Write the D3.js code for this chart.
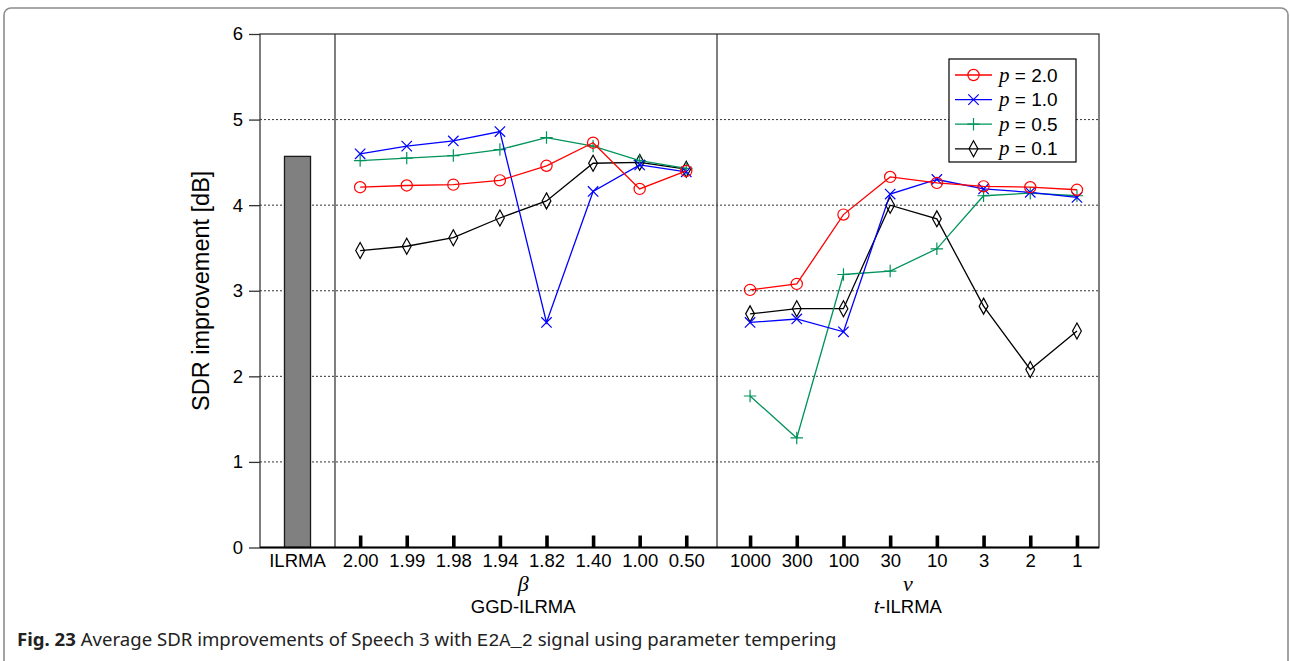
<!DOCTYPE html>
<html>
<head>
<meta charset="utf-8">
<script src="https://cdn.jsdelivr.net/npm/d3@7"></script>
<style>
  body { margin: 0; background: #fff; }
  svg text { font-family: "Liberation Sans", Arial, sans-serif; }
</style>
</head>
<body>
<svg id="chart"></svg>
<script>
// values
let ilrmaCategory = ['ILRMA'];
let ilrmaValue = [4.57];
let betaLabels = ['2.00', '1.99', '1.98', '1.94', '1.82', '1.40', '1.00', '0.50'];
let nuLabels = ['1000', '300', '100', '30', '10', '3', '2', '1'];
let yTicks = [0, 1, 2, 3, 4, 5, 6];
let seriesNames = ['2.0', '1.0', '0.5', '0.1'];

let ggdP20 = [4.21, 4.23, 4.24, 4.29, 4.46, 4.73, 4.19, 4.40];
let ggdP10 = [4.60, 4.69, 4.75, 4.86, 2.63, 4.16, 4.47, 4.39];
let ggdP05 = [4.52, 4.55, 4.58, 4.65, 4.79, 4.69, 4.52, 4.43];
let ggdP01 = [3.47, 3.52, 3.62, 3.85, 4.05, 4.49, 4.50, 4.42];

let tP20 = [3.01, 3.08, 3.89, 4.33, 4.26, 4.22, 4.21, 4.18];
let tP10 = [2.63, 2.67, 2.52, 4.13, 4.30, 4.19, 4.15, 4.09];
let tP05 = [1.77, 1.28, 3.19, 3.23, 3.49, 4.11, 4.14, 4.11];
let tP01 = [2.73, 2.79, 2.79, 4.00, 3.84, 2.82, 2.08, 2.53];

let width = 1290;
let height = 661;

let plotLeft = 260, plotRight = 1099, plotTop = 34, plotBottom = 547.5;
let split1 = 335, split2 = 717;

let colors = ['#ff0000', '#0000ff', '#00935a', '#000000'];

// custom marker shapes
let markerTypes = [
  { draw: (c) => { c.moveTo(5.6, 0); c.arc(0, 0, 5.6, 0, 2 * Math.PI); } },
  { draw: (c) => { let r = 5.2; c.moveTo(-r, -r); c.lineTo(r, r); c.moveTo(-r, r); c.lineTo(r, -r); } },
  { draw: (c) => { let r = 6.2; c.moveTo(-r, 0); c.lineTo(r, 0); c.moveTo(0, -r); c.lineTo(0, r); } },
  { draw: (c) => { c.moveTo(0, -8); c.lineTo(4.4, 0); c.lineTo(0, 8); c.lineTo(-4.4, 0); c.closePath(); } }
];

let svg = d3.select('#chart')
  .attr('width', width)
  .attr('height', height);

// figure frame
svg.append('rect')
  .attr('x', 4).attr('y', 8)
  .attr('width', 1284).attr('height', 720)
  .attr('rx', 7)
  .attr('fill', 'none')
  .attr('stroke', '#8c8c8c')
  .attr('stroke-width', 1.6);

let yScale = d3.scaleLinear().domain([0, 6]).range([plotBottom, plotTop]);

let xIlrma = d3.scaleBand().domain(ilrmaCategory).range([plotLeft, split1])
  .paddingInner(0).paddingOuter(0.94).align(0.5);
let xBeta = d3.scalePoint().domain(betaLabels).range([split1, split2])
  .padding(0.6).align(0.45);
let xNu = d3.scalePoint().domain(nuLabels).range([split2, plotRight])
  .padding(0.59).align(0.6);

// dotted grid
svg.append('g')
  .selectAll('line')
  .data(yTicks.filter(d => d > 0 && d < 6))
  .enter()
  .append('line')
  .attr('x1', plotLeft).attr('x2', plotRight)
  .attr('y1', d => yScale(d)).attr('y2', d => yScale(d))
  .attr('stroke', '#333')
  .attr('stroke-width', 1)
  .attr('stroke-dasharray', '2,2');

// ILRMA bar
svg.append('g')
  .selectAll('rect')
  .data(ilrmaValue)
  .enter()
  .append('rect')
  .attr('x', (d, i) => xIlrma(ilrmaCategory[i]))
  .attr('width', xIlrma.bandwidth())
  .attr('y', d => yScale(d))
  .attr('height', d => yScale(0) - yScale(d))
  .attr('fill', '#808080')
  .attr('stroke', '#1a1a1a')
  .attr('stroke-width', 1.3);

// box and panel dividers
svg.append('rect')
  .attr('x', plotLeft).attr('y', plotTop)
  .attr('width', plotRight - plotLeft).attr('height', plotBottom - plotTop)
  .attr('fill', 'none')
  .attr('stroke', '#3a3a3a')
  .attr('stroke-width', 1.3);

[split1, split2].forEach(x => {
  svg.append('line')
    .attr('x1', x).attr('x2', x)
    .attr('y1', plotTop).attr('y2', plotBottom)
    .attr('stroke', '#3a3a3a')
    .attr('stroke-width', 1.3);
});

svg.append('line')
  .attr('x1', plotLeft).attr('x2', plotRight)
  .attr('y1', plotBottom).attr('y2', plotBottom)
  .attr('stroke', '#000')
  .attr('stroke-width', 1.8);

// y axis
let yAxis = d3.axisLeft(yScale)
  .tickValues(yTicks)
  .tickFormat(d3.format('d'))
  .tickSize(11)
  .tickPadding(6);
let gy = svg.append('g')
  .attr('transform', `translate(${plotLeft},0)`)
  .call(yAxis);
gy.select('.domain').remove();
gy.selectAll('.tick line').attr('stroke', '#333').attr('stroke-width', 1.3);
gy.selectAll('.tick text')
  .style('font-family', '"Liberation Sans", Arial, sans-serif')
  .style('font-size', '18.5px')
  .attr('fill', '#000');

svg.append('text')
  .attr('transform', `translate(209,${(plotTop + plotBottom) / 2}) rotate(-90)`)
  .style('text-anchor', 'middle')
  .style('font-size', '23.5px')
  .text('SDR improvement [dB]');

// x axes
function styleBottom(g, thick) {
  g.select('.domain').remove();
  g.selectAll('.tick line')
    .attr('stroke', '#000')
    .attr('stroke-width', thick ? 3.6 : 0);
  g.selectAll('.tick text')
    .style('font-family', '"Liberation Sans", Arial, sans-serif')
    .style('font-size', '18.5px')
    .attr('fill', '#000');
}

svg.append('g')
  .attr('transform', `translate(0,${plotBottom})`)
  .call(d3.axisBottom(xIlrma).tickSize(0).tickPadding(6))
  .call(g => styleBottom(g, false));

svg.append('g')
  .attr('transform', `translate(0,${plotBottom})`)
  .call(d3.axisBottom(xBeta).tickSize(-12).tickPadding(6))
  .call(g => styleBottom(g, true));

svg.append('g')
  .attr('transform', `translate(0,${plotBottom})`)
  .call(d3.axisBottom(xNu).tickSize(-12).tickPadding(6))
  .call(g => styleBottom(g, true));

let betaMid = (xBeta(betaLabels[3]) + xBeta(betaLabels[4])) / 2;
let nuMid = (split2 + plotRight) / 2;

svg.append('text')
  .attr('x', betaMid).attr('y', 591)
  .style('text-anchor', 'middle')
  .style('font-family', '"Liberation Serif", "Times New Roman", serif')
  .style('font-style', 'italic')
  .style('font-size', '22px')
  .text('β');

svg.append('text')
  .attr('x', betaMid).attr('y', 613)
  .style('text-anchor', 'middle')
  .style('font-size', '18.5px')
  .text('GGD-ILRMA');

svg.append('text')
  .attr('x', nuMid).attr('y', 591)
  .style('text-anchor', 'middle')
  .style('font-family', '"Liberation Serif", "Times New Roman", serif')
  .style('font-style', 'italic')
  .style('font-size', '22px')
  .text('ν');

let tLabel = svg.append('text')
  .attr('x', nuMid).attr('y', 613)
  .style('text-anchor', 'middle')
  .style('font-size', '18.5px');
tLabel.append('tspan').style('font-style', 'italic').text('t');
tLabel.append('tspan').text('-ILRMA');

// series
let ggdSeries = [ggdP20, ggdP10, ggdP05, ggdP01];
let tSeries = [tP20, tP10, tP05, tP01];

let lineBeta = d3.line().x((d, i) => xBeta(betaLabels[i])).y(d => yScale(d));
let lineNu = d3.line().x((d, i) => xNu(nuLabels[i])).y(d => yScale(d));

function drawSeries(values, k, line, xs, labels) {
  let g = svg.append('g');
  g.append('path')
    .attr('d', line(values))
    .attr('fill', 'none')
    .attr('stroke', colors[k])
    .attr('stroke-width', 1.3);
  g.selectAll('path.mark')
    .data(values)
    .enter()
    .append('path')
    .attr('class', 'mark')
    .attr('transform', (d, i) => `translate(${xs(labels[i])},${yScale(d)})`)
    .attr('d', d3.symbol().type(markerTypes[k]))
    .attr('fill', 'none')
    .attr('stroke', colors[k])
    .attr('stroke-width', 1.2);
}

[3, 2, 1, 0].forEach(k => {
  drawSeries(ggdSeries[k], k, lineBeta, xBeta, betaLabels);
  drawSeries(tSeries[k], k, lineNu, xNu, nuLabels);
});

// legend
let legend = svg.append('g').attr('transform', 'translate(949,59)');
legend.append('rect')
  .attr('width', 127).attr('height', 103)
  .attr('fill', '#fff')
  .attr('stroke', '#000')
  .attr('stroke-width', 1.2);

let rows = legend.selectAll('.row')
  .data(seriesNames)
  .enter()
  .append('g')
  .attr('class', 'row')
  .attr('transform', (d, i) => `translate(0,${16 + i * 24.6})`);

rows.append('line')
  .attr('x1', 6).attr('x2', 43)
  .attr('stroke', (d, i) => colors[i])
  .attr('stroke-width', 1.3);

rows.append('path')
  .attr('transform', 'translate(24.5,0)')
  .attr('d', (d, i) => d3.symbol().type(markerTypes[i])())
  .attr('fill', 'none')
  .attr('stroke', (d, i) => colors[i])
  .attr('stroke-width', 1.2);

let lt = rows.append('text')
  .attr('x', 50)
  .attr('y', 6.5)
  .style('font-size', '19px');
lt.append('tspan')
  .style('font-family', '"Liberation Serif", "Times New Roman", serif')
  .style('font-style', 'italic')
  .style('font-size', '21px')
  .text('p');
lt.append('tspan').text(d => ' = ' + d);

// caption
let cap = svg.append('text')
  .attr('x', 17).attr('y', 646)
  .style('font-family', '"Noto Sans", "Open Sans", sans-serif')
  .style('font-size', '18.6px')
  .attr('fill', '#222');
cap.append('tspan').style('font-weight', 'bold').text('Fig. 23');
cap.append('tspan').text(' Average SDR improvements of Speech 3 with ');
cap.append('tspan')
  .style('font-family', '"Liberation Mono", "DejaVu Sans Mono", monospace')
  .text('E2A_2');
cap.append('tspan').text(' signal using parameter tempering');
</script>
</body>
</html>
